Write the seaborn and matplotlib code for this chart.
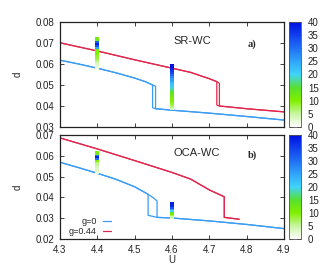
"""Hysteresis of d(U) for SR-WC and OCA-WC, g=0 and g=0.44, with colour-coded columns."""
import numpy as np
import matplotlib
matplotlib.use("Agg")
import matplotlib.pyplot as plt
from matplotlib.colors import LinearSegmentedColormap, Normalize
from matplotlib.lines import Line2D
import seaborn as sns

OUT = "out.png"

# ---- panel a) SR-WC ----
a_g0_up_U = [4.30, 4.35, 4.40, 4.45, 4.50, 4.53, 4.548, 4.556]
a_g0_up_d = [0.0618, 0.0600, 0.0580, 0.0558, 0.0533, 0.0515, 0.0500, 0.0494]
a_g0_lo_U = [4.548, 4.556, 4.60, 4.70, 4.80, 4.90]
a_g0_lo_d = [0.0392, 0.0387, 0.0380, 0.0366, 0.0350, 0.0333]

a_g44_up_U = [4.30, 4.40, 4.50, 4.60, 4.65, 4.70, 4.720, 4.727]
a_g44_up_d = [0.0701, 0.0662, 0.0620, 0.0580, 0.0560, 0.0530, 0.0516, 0.0508]
a_g44_lo_U = [4.720, 4.727, 4.80, 4.90]
a_g44_lo_d = [0.0405, 0.0400, 0.0387, 0.0372]

a_col1_U = 4.4
a_col1_d = [0.058, 0.059, 0.060, 0.061, 0.062, 0.063, 0.064, 0.065,
            0.066, 0.067, 0.068, 0.069, 0.070, 0.071, 0.072]
a_col1_c = [1, 2, 3, 4, 6, 8, 9, 10, 10, 11, 25, 33, 38, 32, 12]
a_col2_U = 4.6
a_col2_d = [0.039, 0.040, 0.041, 0.042, 0.043, 0.044, 0.045, 0.046, 0.047,
            0.048, 0.049, 0.050, 0.051, 0.052, 0.053, 0.054, 0.055, 0.056,
            0.057, 0.058, 0.059]
a_col2_c = [4, 6, 8, 9, 10, 11, 12, 13, 15, 17, 19, 21, 22, 24, 26, 28,
            31, 34, 36, 38, 40]

# ---- panel b) OCA-WC ----
b_g0_up_U = [4.30, 4.35, 4.40, 4.45, 4.50, 4.536, 4.55, 4.56]
b_g0_up_d = [0.0569, 0.0543, 0.0516, 0.0487, 0.0451, 0.0415, 0.0398, 0.0383]
b_g0_lo_U = [4.536, 4.56, 4.60, 4.70, 4.80, 4.90]
b_g0_lo_d = [0.0314, 0.0304, 0.0301, 0.0287, 0.0270, 0.0250]

b_g44_up_U = [4.30, 4.40, 4.50, 4.60, 4.65, 4.70, 4.74]
b_g44_up_d = [0.0686, 0.0633, 0.0577, 0.0520, 0.0488, 0.0436, 0.0403]
b_g44_lo_U = [4.74, 4.78]
b_g44_lo_d = [0.0304, 0.0295]

b_col1_U = 4.4
b_col1_d = [0.0520, 0.0530, 0.0540, 0.0550, 0.0560, 0.0570, 0.0580,
            0.0590, 0.0600, 0.0607, 0.0615]
b_col1_c = [2, 3, 3, 4, 5, 6, 10, 30, 38, 30, 11]
b_col2_U = 4.6
b_col2_d = [0.0305, 0.0312, 0.0319, 0.0326, 0.0333, 0.0340, 0.0347,
            0.0354, 0.0361, 0.0368]
b_col2_c = [3, 5, 8, 11, 14, 20, 26, 33, 37, 38]

BLUE = "#3a9cf4"
RED = "#e0284e"

sns.set_style("ticks")
plt.rcParams["font.family"] = ["Liberation Sans", "DejaVu Sans"]
plt.rcParams["font.size"] = 7

cmap = LinearSegmentedColormap.from_list("pal", [
    (0.0, "#ffffff"), (0.125, "#c8f5a0"), (0.25, "#80f000"),
    (0.375, "#58e030"), (0.5, "#40d4fa"), (0.625, "#30a4fa"),
    (0.75, "#2070f4"), (0.875, "#1040ee"), (1.0, "#0010e0")])
norm = Normalize(0, 40)


def hysteresis(ax, upU, upd, loU, lod, color):
    upU, upd, loU, lod = map(np.asarray, (upU, upd, loU, lod))
    fwd_U = np.r_[upU, loU[loU >= upU[-1]]]
    fwd_d = np.r_[upd, lod[loU >= upU[-1]]]
    bwd_U = np.r_[upU[upU <= loU[0]], loU]
    bwd_d = np.r_[upd[upU <= loU[0]], lod]
    for U, d in ((fwd_U, fwd_d), (bwd_U, bwd_d)):
        sns.lineplot(x=U, y=d, sort=False, estimator=None, color=color,
                     lw=0.9, ax=ax)


def column(ax, U, d, c):
    sns.scatterplot(x=[U] * len(d), y=d, hue=c, palette=cmap, hue_norm=norm,
                    marker="s", s=7, linewidth=0, legend=False, zorder=4, ax=ax)


fig = plt.figure(figsize=(3.34, 2.75), dpi=100)
ax_a = fig.add_axes([0.1796, 0.5382, 0.6707, 0.3818])
ax_b = fig.add_axes([0.1796, 0.1309, 0.6707, 0.3782])
cax_a = fig.add_axes([0.8653, 0.5382, 0.0359, 0.3818])
cax_b = fig.add_axes([0.8653, 0.1309, 0.0359, 0.3782])

hysteresis(ax_a, a_g0_up_U, a_g0_up_d, a_g0_lo_U, a_g0_lo_d, BLUE)
hysteresis(ax_a, a_g44_up_U, a_g44_up_d, a_g44_lo_U, a_g44_lo_d, RED)
column(ax_a, a_col1_U, a_col1_d, a_col1_c)
column(ax_a, a_col2_U, a_col2_d, a_col2_c)

hysteresis(ax_b, b_g0_up_U, b_g0_up_d, b_g0_lo_U, b_g0_lo_d, BLUE)
hysteresis(ax_b, b_g44_up_U, b_g44_up_d, b_g44_lo_U, b_g44_lo_d, RED)
column(ax_b, b_col1_U, b_col1_d, b_col1_c)
column(ax_b, b_col2_U, b_col2_d, b_col2_c)

for ax, (lo, hi) in ((ax_a, (0.03, 0.08)), (ax_b, (0.02, 0.07))):
    ax.set_xlim(4.3, 4.9)
    ax.set_ylim(lo, hi)
    ax.set_xticks(np.arange(4.3, 4.91, 0.1))
    ax.set_yticks(np.arange(lo, hi + 0.001, 0.01))
    ax.yaxis.set_major_formatter(plt.FormatStrFormatter("%.2f"))
    ax.tick_params(direction="in", top=True, right=True, length=3,
                   width=0.6, pad=4, labelsize=7, colors="#222222")
    for sp in ax.spines.values():
        sp.set_linewidth(0.9)
        sp.set_color("#222222")
    ax.set_ylabel("d", fontsize=7)
    ax.yaxis.set_label_coords(-0.165, 0.5)

ax_a.tick_params(labelbottom=False)
ax_a.set_xlabel("")
ax_b.set_xlabel("U", fontsize=7)
ax_b.xaxis.set_label_coords(0.5, -0.15)
ax_b.xaxis.set_major_formatter(plt.FormatStrFormatter("%.1f"))

ax_a.text(4.655, 0.071, "SR-WC", fontsize=8, ha="center", va="center")
ax_a.text(4.815, 0.0695, "a)", fontsize=7.5, ha="center", va="center",
          family=["Liberation Serif", "DejaVu Serif"], weight="bold")
ax_b.text(4.667, 0.0612, "OCA-WC", fontsize=8, ha="center", va="center")
ax_b.text(4.815, 0.0604, "b)", fontsize=7.5, ha="center", va="center",
          family=["Liberation Serif", "DejaVu Serif"], weight="bold")

handles = [Line2D([], [], color=BLUE, lw=0.9), Line2D([], [], color=RED, lw=0.9)]
ax_b.legend(handles, ["g=0", "g=0.44"], loc="lower left",
            bbox_to_anchor=(0.04, 0.03), frameon=False, markerfirst=False,
            fontsize=6.5, handlelength=0.9, handletextpad=0.7,
            labelspacing=0.05, borderpad=0, borderaxespad=0)

sm = plt.cm.ScalarMappable(norm=norm, cmap=cmap)
for cax in (cax_a, cax_b):
    cb = fig.colorbar(sm, cax=cax, ticks=np.arange(0, 41, 5))
    cb.outline.set_linewidth(0.6)
    cb.outline.set_edgecolor("#555555")
    cax.tick_params(direction="in", left=True, right=True, length=3,
                    width=0.6, pad=5, labelsize=7, colors="#222222")

fig.savefig(OUT, dpi=100)
print(f"Saved: {OUT}")
